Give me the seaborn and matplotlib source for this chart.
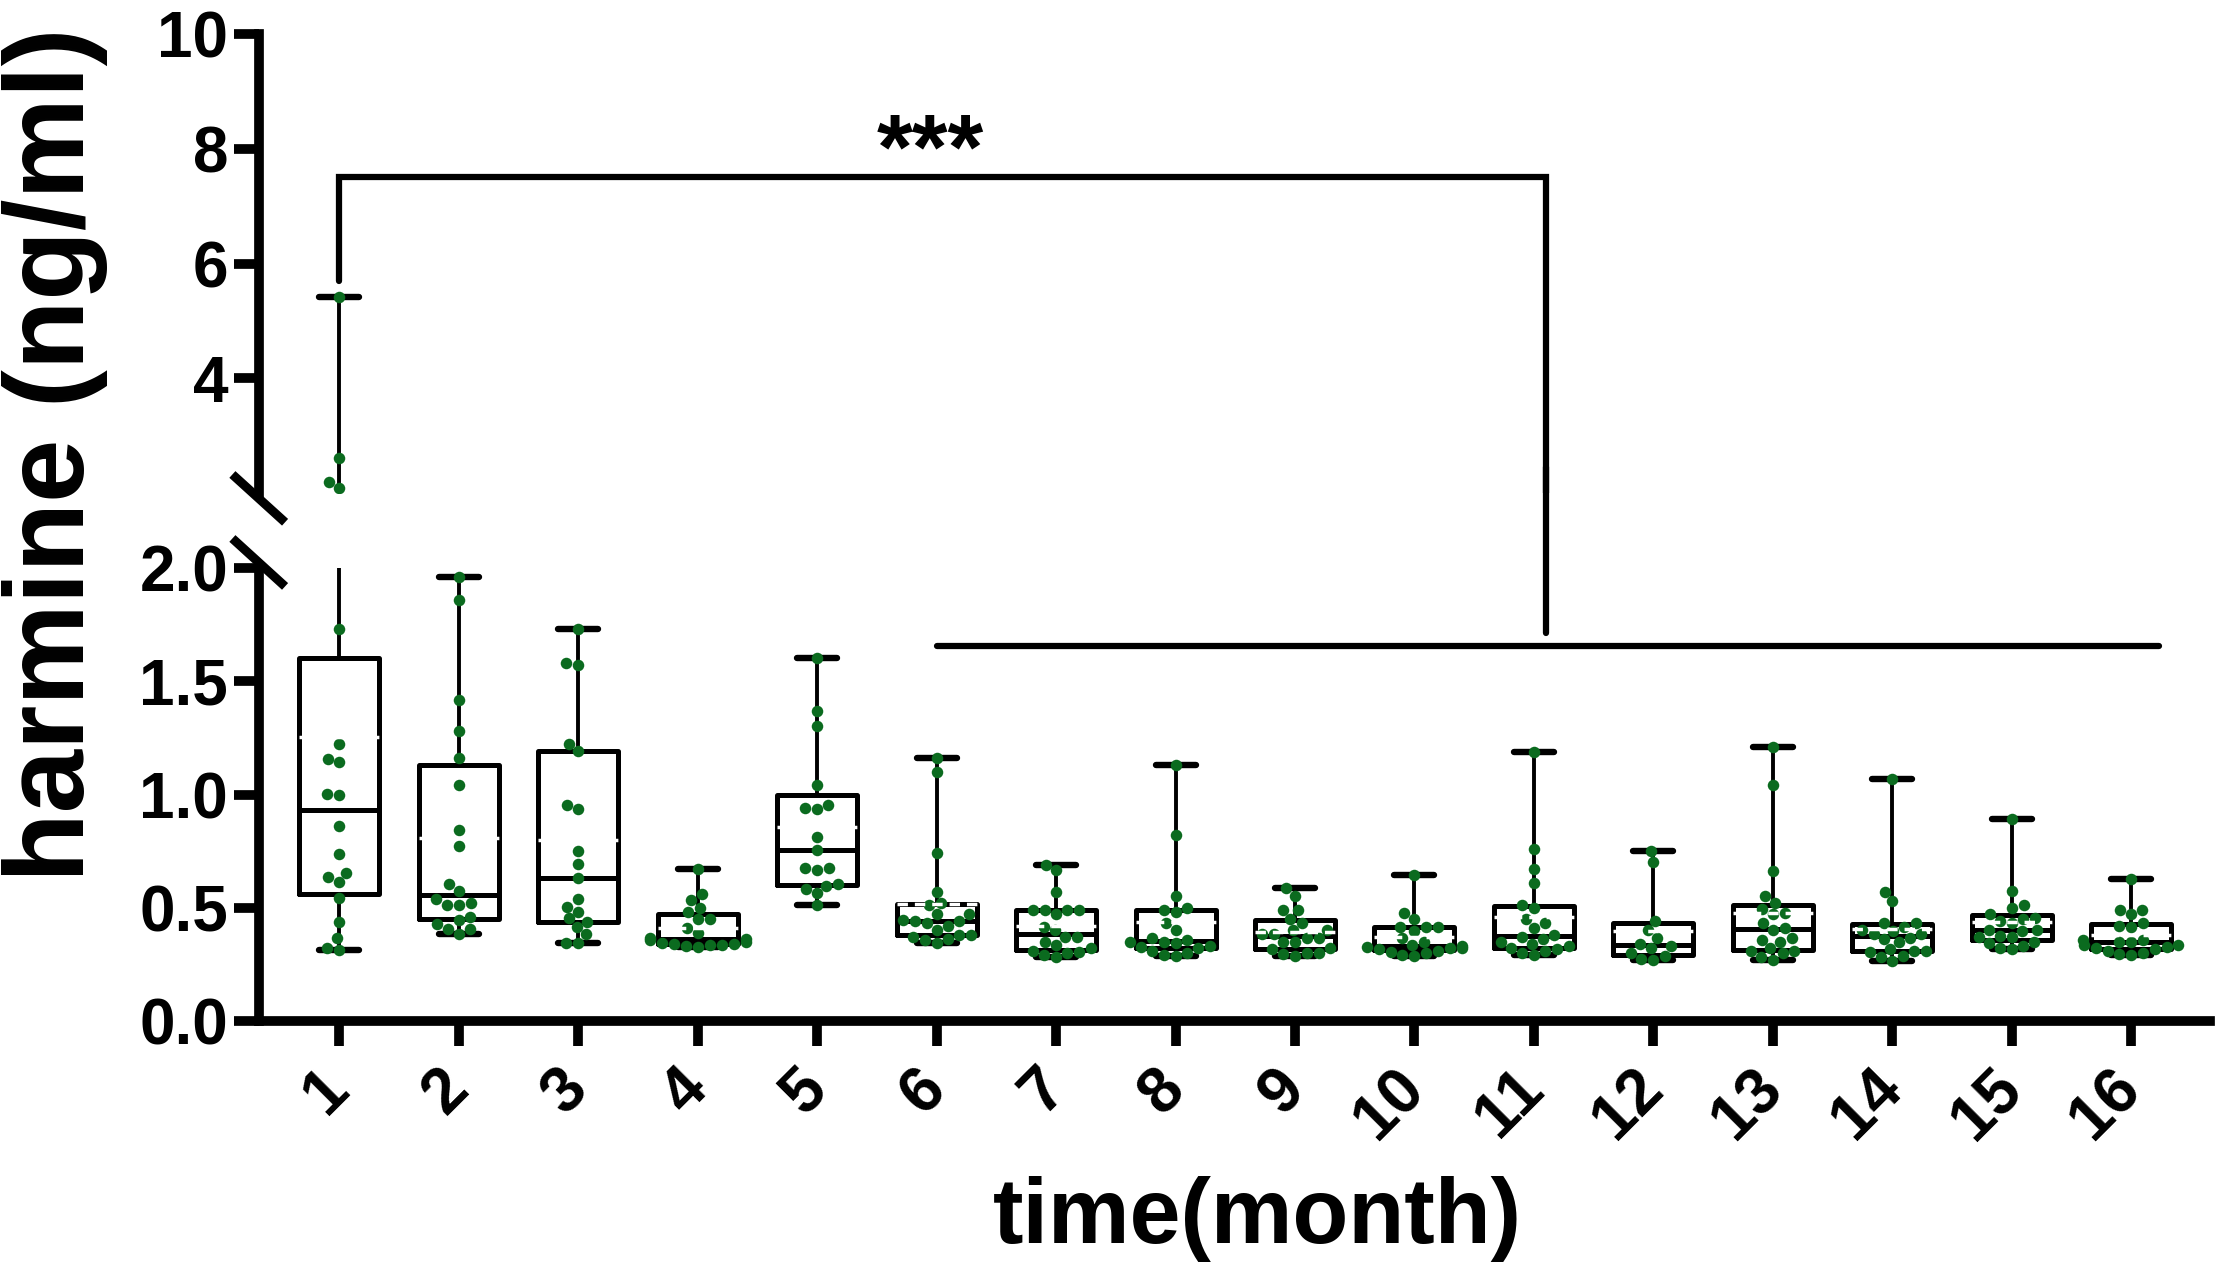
import numpy as np
import pandas as pd
import matplotlib
matplotlib.use("Agg")
import matplotlib.pyplot as plt
from matplotlib.ticker import FormatStrFormatter
import seaborn as sns

# ---------------- data ----------------
months = [str(i) for i in range(1, 17)]
m1 = [5.42, 2.61, 2.19, 2.09, 1.73, 1.222, 1.159, 1.145, 1.003, 0.998, 0.861, 0.735,
      0.655, 0.634, 0.613, 0.544, 0.436, 0.364, 0.322, 0.314]
m2 = [1.963, 1.861, 1.42, 1.279, 1.16, 1.041, 0.842, 0.773, 0.605, 0.574, 0.536, 0.521,
      0.513, 0.513, 0.459, 0.444, 0.429, 0.406, 0.406, 0.383]
m3 = [1.73, 1.582, 1.573, 1.225, 1.194, 0.953, 0.934, 0.75, 0.692, 0.631, 0.536, 0.505,
      0.482, 0.452, 0.436, 0.413, 0.383, 0.345, 0.345]
m4 = [0.67, 0.56, 0.535, 0.50, 0.48, 0.45, 0.45, 0.41, 0.39, 0.365, 0.36, 0.355, 0.35,
      0.345, 0.34, 0.34, 0.335, 0.335, 0.33, 0.325]
m5 = [1.605, 1.371, 1.305, 1.044, 0.953, 0.942, 0.934, 0.812, 0.753, 0.674, 0.674, 0.666,
      0.605, 0.597, 0.582, 0.564, 0.513]
m6 = [1.16, 1.10, 0.74, 0.57, 0.52, 0.51, 0.47, 0.47, 0.445, 0.44, 0.44, 0.43, 0.42,
      0.40, 0.38, 0.38, 0.37, 0.36, 0.355, 0.345]
m7 = [0.69, 0.665, 0.57, 0.49, 0.49, 0.49, 0.49, 0.47, 0.415, 0.40, 0.37, 0.37, 0.35,
      0.335, 0.32, 0.31, 0.305, 0.30, 0.29, 0.28]
m8 = [1.13, 0.82, 0.55, 0.50, 0.49, 0.48, 0.43, 0.40, 0.365, 0.355, 0.35, 0.35, 0.345,
      0.33, 0.325, 0.32, 0.31, 0.30, 0.29, 0.285]
m9 = [0.585, 0.55, 0.49, 0.49, 0.45, 0.43, 0.40, 0.40, 0.385, 0.385, 0.365, 0.365, 0.35,
      0.35, 0.32, 0.315, 0.30, 0.30, 0.295, 0.285]
m10 = [0.645, 0.475, 0.45, 0.415, 0.415, 0.415, 0.395, 0.365, 0.35, 0.335, 0.33, 0.325,
       0.32, 0.32, 0.315, 0.31, 0.305, 0.30, 0.29, 0.285]
m11 = [1.19, 0.76, 0.67, 0.61, 0.51, 0.50, 0.45, 0.43, 0.41, 0.38, 0.37, 0.36, 0.35,
       0.34, 0.33, 0.32, 0.315, 0.31, 0.30, 0.29]
m12 = [0.75, 0.70, 0.44, 0.40, 0.365, 0.34, 0.33, 0.32, 0.30, 0.285, 0.275, 0.27]
m13 = [1.21, 1.04, 0.66, 0.55, 0.52, 0.495, 0.475, 0.47, 0.43, 0.41, 0.40, 0.365, 0.355,
       0.35, 0.32, 0.31, 0.31, 0.30, 0.28, 0.27]
m14 = [1.07, 0.57, 0.53, 0.43, 0.43, 0.415, 0.40, 0.395, 0.385, 0.385, 0.365, 0.36, 0.35,
       0.315, 0.31, 0.31, 0.305, 0.285, 0.28, 0.265]
m15 = [0.89, 0.575, 0.51, 0.50, 0.47, 0.455, 0.45, 0.44, 0.43, 0.40, 0.40, 0.395, 0.375,
       0.37, 0.37, 0.35, 0.345, 0.33, 0.32, 0.315]
m16 = [0.625, 0.49, 0.49, 0.47, 0.43, 0.42, 0.415, 0.355, 0.355, 0.35, 0.35, 0.335, 0.335,
       0.325, 0.32, 0.315, 0.31, 0.30, 0.295, 0.29]
groups = [m1, m2, m3, m4, m5, m6, m7, m8, m9, m10, m11, m12, m13, m14, m15, m16]

top_ticks = [4, 6, 8, 10]
bot_ticks = [0.0, 0.5, 1.0, 1.5, 2.0]
break_value = 2.0
sig_label = "***"
bracket_y = 7.51
bracket_left_bottom = 5.7
bracket_right_x = 10.1
bracket_right_bottom = 1.715
line2_y = 1.656
line2_x = [5, 15.23]
y_label = "harmine (ng/ml)"
x_label = "time(month)"

df = pd.DataFrame({"month": np.repeat(months, [len(g) for g in groups]),
                   "value": np.concatenate([np.asarray(g, float) for g in groups])})

# ---------------- style ----------------
sns.set_theme(style="ticks")
plt.rcParams['font.family'] = ['Liberation Sans', 'DejaVu Sans']
plt.rcParams['font.weight'] = 'bold'
for k in ("text.color", "axes.labelcolor", "xtick.color", "ytick.color",
          "axes.edgecolor"):
    plt.rcParams[k] = "black"

green = "#0b6b1f"
lw_spine = 7
lw_bracket = 4.5

fig = plt.figure(figsize=(22.17, 12.78), dpi=100, facecolor="white")
ax_top = fig.add_axes([0.1167, 0.614, 0.880, 0.3595])
ax_bot = fig.add_axes([0.1167, 0.2013, 0.880, 0.354])


def box_stats(v):
    v = np.asarray(v, float)
    q1, med, q3 = np.percentile(v, [25, 50, 75], method="weibull")
    return dict(med=med, q1=q1, q3=q3, whislo=v.min(), whishi=v.max(),
                mean=v.mean(), fliers=[])


stats = [box_stats(g) for g in groups]
box_kw = dict(widths=0.67, showmeans=True, meanline=True, showfliers=False,
              manage_ticks=False,
              boxprops=dict(color="black", lw=3.6),
              whiskerprops=dict(color="black", lw=2.8),
              capprops=dict(color="black", lw=4.6),
              medianprops=dict(color="black", lw=3.6),
              meanprops=dict(color="white", lw=2.5, ls=(0, (3, 2)), zorder=5))
ax_bot.bxp(stats, positions=range(len(months)), **box_kw)
top_idx = [i for i, s in enumerate(stats) if s["whishi"] > break_value]
ax_top.bxp([stats[i] for i in top_idx], positions=top_idx, **box_kw)

sns.swarmplot(data=df[df.value > break_value], x="month", y="value", order=months,
              color=green, size=8.3, linewidth=0, ax=ax_top, zorder=4)
sns.swarmplot(data=df[df.value <= break_value], x="month", y="value", order=months,
              color=green, size=8.3, linewidth=0, ax=ax_bot, zorder=4)

xlim = (-0.675, 15.657)
for ax in (ax_top, ax_bot):
    ax.set_xlim(*xlim)
    ax.set_xlabel("")
    ax.set_ylabel("")
    ax.set_facecolor("white")
    for s in ("top", "right"):
        ax.spines[s].set_visible(False)
    for s in ("left", "bottom"):
        ax.spines[s].set_linewidth(lw_spine)
        ax.spines[s].set_color("black")
    ax.tick_params(axis="both", width=lw_spine, length=18, color="black",
                   labelcolor="black", labelsize=46, pad=4)

ax_top.set_ylim(break_value, 10)
ax_top.set_yticks(top_ticks)
ax_top.spines["bottom"].set_visible(False)
ax_top.tick_params(axis="x", bottom=False, labelbottom=False)

ax_bot.set_ylim(0, break_value)
ax_bot.set_yticks(bot_ticks)
ax_bot.yaxis.set_major_formatter(FormatStrFormatter("%.1f"))
ax_bot.set_xticks(range(len(months)))
ax_bot.set_xticklabels(months, rotation=45, ha="right", va="center",
                       rotation_mode="anchor")
ax_bot.tick_params(axis="x", pad=24)
for lab in ax_bot.get_xticklabels() + ax_bot.get_yticklabels() + ax_top.get_yticklabels():
    lab.set_fontweight("bold")
    lab.set_color("black")

# axis break marks
dx = 0.0135
ax_top.plot([-dx, dx], [0.041, -0.063], transform=ax_top.transAxes, color="black",
            lw=6.5, clip_on=False, solid_capstyle="butt")
ax_bot.plot([-dx, dx], [1.066, 0.96], transform=ax_bot.transAxes, color="black",
            lw=6.5, clip_on=False, solid_capstyle="butt")

# significance brackets
ax_top.plot([0, 0, bracket_right_x, bracket_right_x],
            [bracket_left_bottom, bracket_y, bracket_y, break_value],
            color="black", lw=lw_bracket, solid_joinstyle="miter", zorder=6)
ax_bot.plot([bracket_right_x, bracket_right_x], [bracket_right_bottom, 2.45],
            color="black", lw=lw_bracket, clip_on=False, zorder=6)
ax_bot.plot(line2_x, [line2_y, line2_y], color="black", lw=lw_bracket, zorder=6)
ax_top.text(4.95, 7.48, sig_label, ha="center", va="baseline", fontsize=66,
            fontweight="bold", color="black")

fig.text(0.025, 0.644, y_label, rotation=90, ha="center", va="center",
         fontsize=82, fontweight="bold", color="black")
fig.text(0.567, 0.046, x_label, ha="center", va="center", fontsize=66,
         fontweight="bold", color="black")

fig.savefig("out.png", dpi=100, facecolor="white")
